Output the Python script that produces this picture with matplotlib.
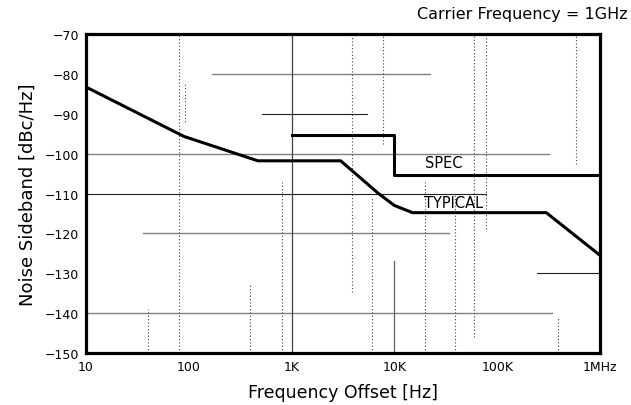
import matplotlib
matplotlib.use("Agg")
import matplotlib.pyplot as plt

# phase noise curves, offset in Hz, level in dBc/Hz
typical_freq = [10, 90, 470, 3000, 7000, 10000, 15000, 300000, 1000000]
typical_level = [-83.3, -95.7, -101.8, -101.8, -110, -113, -114.8, -114.8, -125.5]

spec_freq = [1000, 10000, 10000, 1000000]
spec_level = [-95.3, -95.3, -105.3, -105.3]

xticks = [10, 100, 1e3, 1e4, 1e5, 1e6]
xtick_labels = ["10", "100", "1K", "10K", "100K", "1MHz"]
yticks = [-70, -80, -90, -100, -110, -120, -130, -140, -150]

# horizontal grid pieces: level, start, end, colour
hgrid = [(-80, 170, 22000, "#808080"),
         (-90, 520, 5400, "#202020"),
         (-100, 10, 320000, "#808080"),
         (-110, 10, 78000, "#202020"),
         (-120, 36, 34000, "#808080"),
         (-130, 245000, 1e6, "#202020"),
         (-140, 10, 340000, "#808080")]

# dotted verticals: offset, bottom, top
vgrid = [(80, -150, -70), (92, -92, -82), (40, -150, -139), (390, -150, -133),
         (800, -150, -107), (3900, -134.6, -70), (6000, -150, -111),
         (7800, -97.5, -70), (20000, -150, -107), (39000, -150, -110),
         (59000, -146, -70), (78000, -119, -70), (590000, -102.5, -70),
         (390000, -150, -141)]

plt.rcParams['font.family'] = 'DejaVu Sans'

fig = plt.figure(figsize=(6.31, 4.06), dpi=100)
ax = fig.add_axes([0.1363, 0.128, 0.8146, 0.7858])

for y, x0, x1, c in hgrid:
    ax.plot([x0, x1], [y, y], color=c, lw=1.0 if c != "#202020" else 0.8, zorder=1)
for x, y0, y1 in vgrid:
    ax.plot([x, x], [y0, y1], color="#404040", lw=0.8, ls=(0, (1, 2)), zorder=1)
ax.plot([1000, 1000], [-150, -70], color="#404040", lw=0.9, zorder=1)
ax.plot([10000, 10000], [-150, -127], color="#606060", lw=0.9, zorder=1)

ax.plot(typical_freq, typical_level, color="black", lw=2.2, zorder=3)
ax.plot(spec_freq, spec_level, color="black", lw=2.2, zorder=3)

ax.text(20000, -102.2, "SPEC", fontsize=10.5, ha="left", va="center")
ax.text(19500, -112.2, "TYPICAL", fontsize=10.5, ha="left", va="center")

ax.set_xscale("log")
ax.set_xlim(10, 1e6)
ax.set_ylim(-150, -70)
ax.set_xticks(xticks)
ax.set_xticklabels(xtick_labels)
ax.minorticks_off()
ax.set_yticks(yticks)
ax.tick_params(length=0, labelsize=9, pad=5)

for s in ax.spines.values():
    s.set_linewidth(2.3)

ax.set_xlabel("Frequency Offset [Hz]", fontsize=12.5, labelpad=7)
ax.set_ylabel("Noise Sideband [dBc/Hz]", fontsize=13, labelpad=6)
fig.text(0.995, 0.965, "Carrier Frequency = 1GHz", fontsize=11.5, ha="right", va="center")

fig.savefig("out.png", dpi=100)
